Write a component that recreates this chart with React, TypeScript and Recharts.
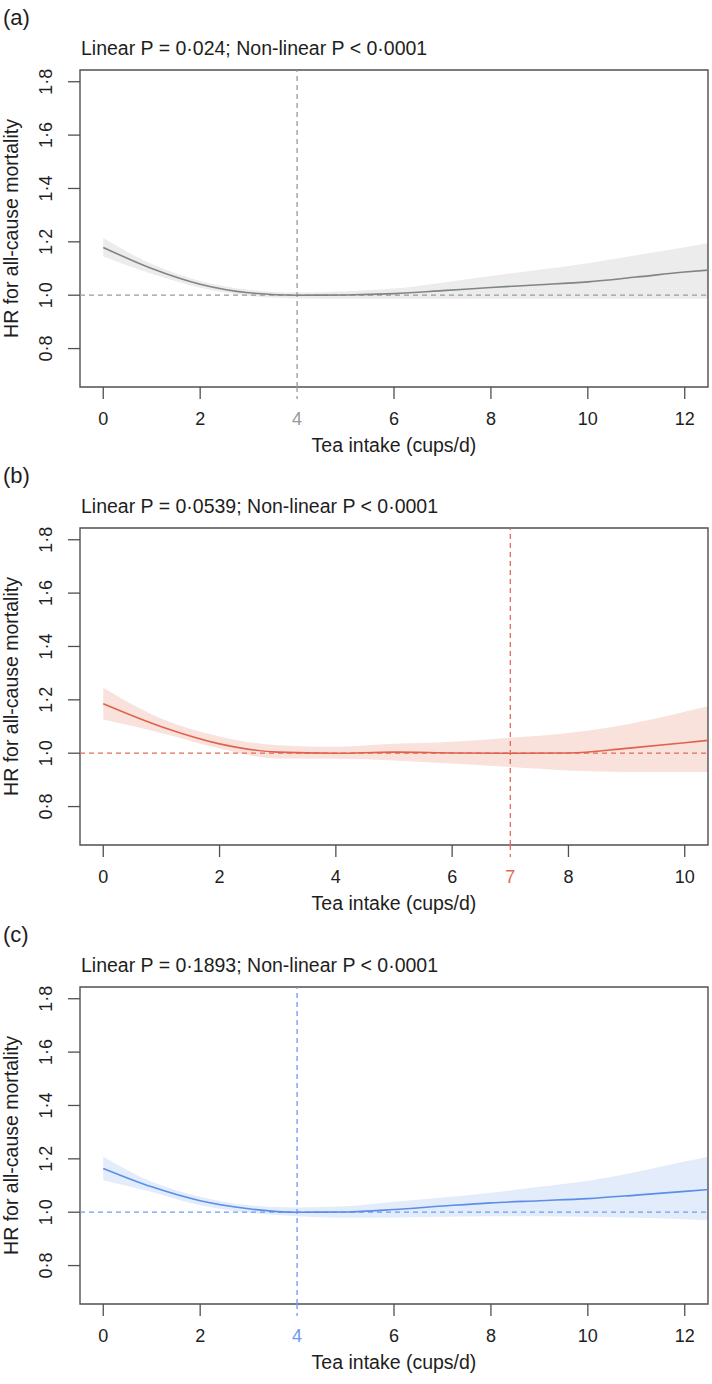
import React from 'react';
import {
  ComposedChart,
  Area,
  Line,
  XAxis,
  YAxis,
  ReferenceLine,
  ReferenceArea,
  Label,
} from 'recharts';

const xA = [0, 1, 2, 3, 4, 5, 6, 7, 8, 9, 10, 11, 12, 12.48];
const hrA = [1.179, 1.1, 1.041, 1.009, 1.0, 1.001, 1.006, 1.017, 1.029, 1.039, 1.05, 1.068, 1.087, 1.094];
const loA = [1.145, 1.08, 1.028, 0.998, 0.988, 0.987, 0.986, 0.986, 0.987, 0.987, 0.987, 0.987, 0.987, 0.987];
const hiA = [1.214, 1.117, 1.053, 1.02, 1.01, 1.015, 1.025, 1.047, 1.072, 1.095, 1.12, 1.15, 1.18, 1.195];

const xB = [0, 1, 2, 3, 4, 5, 6, 7, 8, 9, 10, 10.4];
const hrB = [1.185, 1.099, 1.035, 1.004, 1.0, 1.004, 1.001, 1.0, 1.001, 1.018, 1.039, 1.048];
const loB = [1.126, 1.076, 1.018, 0.98, 0.979, 0.973, 0.961, 0.948, 0.935, 0.93, 0.93, 0.93];
const hiB = [1.245, 1.129, 1.063, 1.03, 1.024, 1.035, 1.043, 1.058, 1.076, 1.108, 1.155, 1.176];

const xC = [0, 1, 2, 3, 4, 5, 6, 7, 8, 9, 10, 11, 12, 12.48];
const hrC = [1.164, 1.095, 1.043, 1.013, 1.0, 1.001, 1.01, 1.023, 1.035, 1.043, 1.051, 1.064, 1.078, 1.085];
const loC = [1.12, 1.076, 1.026, 0.998, 0.985, 0.979, 0.98, 0.983, 0.985, 0.985, 0.983, 0.979, 0.974, 0.97];
const hiC = [1.208, 1.114, 1.058, 1.026, 1.018, 1.022, 1.039, 1.055, 1.073, 1.095, 1.118, 1.151, 1.19, 1.208];

const ticksA = [0, 2, 4, 6, 8, 10, 12];
const ticksB = [0, 2, 4, 6, 7, 8, 10];
const ticksC = [0, 2, 4, 6, 8, 10, 12];
const yTicks = [0.8, 1.0, 1.2, 1.4, 1.6, 1.8];

const titles = [
  'Linear P = 0·024; Non-linear P < 0·0001',
  'Linear P = 0·0539; Non-linear P < 0·0001',
  'Linear P = 0·1893; Non-linear P < 0·0001',
];

const FONT = '"Liberation Sans", Arial, sans-serif';
const TEXT = '#1e1e1e';
const AXIS = '#505050';
const Y_MIN = 0.656;
const Y_MAX = 1.844;

const W = 712;
const H = 458;

function buildRows(xs: number[], hr: number[], lo: number[], hi: number[]) {
  return xs.map((x, i) => ({ x, hr: hr[i], band: [lo[i], hi[i]] }));
}

const fmt = (v: number) => v.toFixed(1).replace('.', '·');

interface PanelProps {
  tag: string;
  title: string;
  rows: { x: number; hr: number; band: number[] }[];
  xMin: number;
  xMax: number;
  ticks: number[];
  knot: number;
  line: string;
  band: string;
  dash: string;
  top: number;
}

function Panel({ tag, title, rows, xMin, xMax, ticks, knot, line, band, dash, top }: PanelProps) {
  const xTick = (p: any) => {
    const special = p.payload.value === knot;
    return (
      <g>
        <line
          x1={p.x}
          x2={p.x}
          y1={p.y - 12}
          y2={p.y}
          stroke={special ? dash : AXIS}
          strokeWidth={1.3}
          strokeDasharray={special ? '5 4' : undefined}
        />
        <text
          x={p.x}
          y={p.y + 26}
          textAnchor="middle"
          fontFamily={FONT}
          fontSize={18}
          fill={special ? dash : TEXT}
        >
          {p.payload.value}
        </text>
      </g>
    );
  };
  const yTick = (p: any) => (
    <g>
      <line x1={p.x} x2={p.x + 12} y1={p.y} y2={p.y} stroke={AXIS} strokeWidth={1.3} />
      <text
        x={p.x - 16}
        y={p.y}
        textAnchor="middle"
        transform={`rotate(-90 ${p.x - 16} ${p.y})`}
        fontFamily={FONT}
        fontSize={18}
        fill={TEXT}
      >
        {fmt(p.payload.value)}
      </text>
    </g>
  );

  return (
    <div style={{ position: 'absolute', left: 0, top, width: W, height: H }}>
      <svg width={W} height={80} style={{ position: 'absolute', left: 0, top: 0 }}>
        <text x={3} y={25} fontFamily={FONT} fontSize={22} fill={TEXT}>
          {tag}
        </text>
        <text x={81} y={55} fontFamily={FONT} fontSize={19.5} fill={TEXT}>
          {title}
        </text>
      </svg>
      <div style={{ position: 'absolute', left: 0, top: 0 }}>
        <ComposedChart
          width={W}
          height={H}
          data={rows}
          margin={{ top: 70, right: 4, bottom: 0, left: 0 }}
        >
          <XAxis
            dataKey="x"
            type="number"
            domain={[xMin, xMax]}
            allowDataOverflow
            ticks={ticks}
            interval={0}
            height={71}
            axisLine={false}
            tickLine={false}
            tickSize={12}
            tickMargin={0}
            tick={xTick}
          >
            <Label
              content={(lp: any) => {
                const vb = lp.viewBox;
                return (
                  <text
                    x={vb.x + vb.width / 2}
                    y={vb.y + 65}
                    textAnchor="middle"
                    fontFamily={FONT}
                    fontSize={19.5}
                    fill={TEXT}
                  >
                    Tea intake (cups/d)
                  </text>
                );
              }}
            />
          </XAxis>
          <YAxis
            type="number"
            domain={[Y_MIN, Y_MAX]}
            allowDataOverflow
            ticks={yTicks}
            interval={0}
            width={80}
            axisLine={false}
            tickLine={false}
            tickSize={12}
            tickMargin={0}
            tick={yTick}
          >
            <Label
              content={(lp: any) => {
                const vb = lp.viewBox;
                const cy = vb.y + vb.height / 2;
                return (
                  <text
                    x={18}
                    y={cy}
                    textAnchor="middle"
                    transform={`rotate(-90 18 ${cy})`}
                    fontFamily={FONT}
                    fontSize={19.5}
                    fill={TEXT}
                  >
                    HR for all-cause mortality
                  </text>
                );
              }}
            />
          </YAxis>
          <Area
            dataKey="band"
            type="monotone"
            stroke="none"
            fill={band}
            fillOpacity={1}
            isAnimationActive={false}
          />
          <ReferenceLine y={1} stroke={dash} strokeWidth={1.3} strokeDasharray="5 4" />
          <ReferenceLine x={knot} stroke={dash} strokeWidth={1.3} strokeDasharray="5 4" />
          <Line
            dataKey="hr"
            type="monotone"
            stroke={line}
            strokeWidth={1.6}
            dot={false}
            activeDot={false}
            isAnimationActive={false}
          />
          <ReferenceArea
            x1={xMin}
            x2={xMax}
            y1={Y_MIN}
            y2={Y_MAX}
            fill="none"
            fillOpacity={0}
            stroke={AXIS}
            strokeWidth={1.4}
            ifOverflow="visible"
          />
        </ComposedChart>
      </div>
    </div>
  );
}

export default function App() {
  return (
    <div style={{ position: 'absolute', left: 0, top: 0, width: W, height: 1384, background: '#fff' }}>
      <Panel
        tag="(a)"
        title={titles[0]}
        rows={buildRows(xA, hrA, loA, hiA)}
        xMin={-0.48}
        xMax={12.48}
        ticks={ticksA}
        knot={4}
        line="#7d877f"
        band="#ececec"
        dash="#999999"
        top={0}
      />
      <Panel
        tag="(b)"
        title={titles[1]}
        rows={buildRows(xB, hrB, loB, hiB)}
        xMin={-0.4}
        xMax={10.4}
        ticks={ticksB}
        knot={7}
        line="#e0624d"
        band="#f9e2dc"
        dash="#e36a55"
        top={458}
      />
      <Panel
        tag="(c)"
        title={titles[2]}
        rows={buildRows(xC, hrC, loC, hiC)}
        xMin={-0.48}
        xMax={12.48}
        ticks={ticksC}
        knot={4}
        line="#5a8ee8"
        band="#e3ecfb"
        dash="#6b9cf0"
        top={917}
      />
    </div>
  );
}
